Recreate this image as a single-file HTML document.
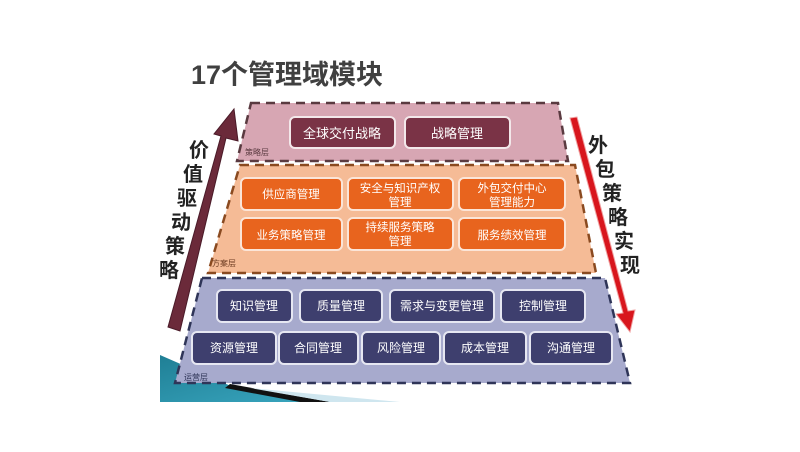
<!DOCTYPE html>
<html><head><meta charset="utf-8"><style>
body{margin:0;background:#fff;width:800px;height:447px;overflow:hidden}
text{font-family:"Liberation Sans","Noto Sans CJK SC",sans-serif}
</style></head><body>
<svg width="800" height="447" viewBox="0 0 800 447">
<defs>
<linearGradient id="teal" x1="0" y1="0" x2="1" y2="1"><stop offset="0" stop-color="#1f7f95"/><stop offset="1" stop-color="#3aa7c0"/></linearGradient>
</defs>
<polygon points="160,355 240,390 330,402 160,402" fill="url(#teal)"/>
<polygon points="230,384 330,402 300,402 225,388" fill="#111"/>
<polygon points="250,388 400,402 330,402" fill="#cfe6ef"/>
<text x="191" y="84" font-size="27" fill="#404040" font-weight="bold">17个管理域模块</text>
<!-- top layer -->
<polygon points="251,103 558,103 568,161 237,161" fill="#d7a6b3" stroke="#5a3a40" stroke-width="2.5" stroke-dasharray="9,6"/>
<text x="245" y="155" font-size="8" fill="#5a3a40" font-family="Liberation Serif,Noto Serif CJK SC,serif">策略层</text>
<g font-size="13" fill="#fff" text-anchor="middle">
<rect x="290" y="117" width="105" height="31" rx="5" fill="#7a3346" stroke="#f3e8ea" stroke-width="2"/>
<text x="342" y="138">全球交付战略</text>
<rect x="405" y="117" width="105" height="31" rx="5" fill="#7a3346" stroke="#f3e8ea" stroke-width="2"/>
<text x="457" y="138">战略管理</text>
</g>
<!-- middle layer -->
<polygon points="240,165 575,165 596,273 208,273" fill="#f5bb96" stroke="#8a4a20" stroke-width="2.5" stroke-dasharray="9,6"/>
<text x="212" y="266" font-size="8" fill="#6a3a20" font-family="Liberation Serif,Noto Serif CJK SC,serif">方案层</text>
<g font-size="11.5" fill="#fff" text-anchor="middle" stroke-width="2">
<rect x="241" y="178" width="101" height="32" rx="5" fill="#e8641e" stroke="#fbe5d8"/>
<rect x="348" y="178" width="105" height="32" rx="5" fill="#e8641e" stroke="#fbe5d8"/>
<rect x="459" y="178" width="106" height="32" rx="5" fill="#e8641e" stroke="#fbe5d8"/>
<rect x="241" y="218" width="101" height="32" rx="5" fill="#e8641e" stroke="#fbe5d8"/>
<rect x="348" y="218" width="105" height="32" rx="5" fill="#e8641e" stroke="#fbe5d8"/>
<rect x="459" y="218" width="106" height="32" rx="5" fill="#e8641e" stroke="#fbe5d8"/>
<g stroke="none">
<text x="291" y="198">供应商管理</text>
<text x="400" y="192">安全与知识产权</text><text x="400" y="206">管理</text>
<text x="512" y="192">外包交付中心</text><text x="512" y="206">管理能力</text>
<text x="291" y="239">业务策略管理</text>
<text x="400" y="231">持续服务策略</text><text x="400" y="245">管理</text>
<text x="512" y="239">服务绩效管理</text>
</g></g>
<!-- bottom layer -->
<polygon points="202,278 605,278 630,383 175,383" fill="#a7aacd" stroke="#2f3558" stroke-width="2.5" stroke-dasharray="9,6"/>
<text x="184" y="380" font-size="8" fill="#2f3558" font-family="Liberation Serif,Noto Serif CJK SC,serif">运营层</text>
<g font-size="12" fill="#fff" text-anchor="middle" stroke-width="2">
<rect x="217" y="290" width="75" height="32" rx="5" fill="#3e3f6e" stroke="#e6e7f2"/>
<rect x="300" y="290" width="82" height="32" rx="5" fill="#3e3f6e" stroke="#e6e7f2"/>
<rect x="390" y="290" width="104" height="32" rx="5" fill="#3e3f6e" stroke="#e6e7f2"/>
<rect x="501" y="290" width="84" height="32" rx="5" fill="#3e3f6e" stroke="#e6e7f2"/>
<rect x="192" y="332" width="84" height="32" rx="5" fill="#3e3f6e" stroke="#e6e7f2"/>
<rect x="279" y="332" width="79" height="32" rx="5" fill="#3e3f6e" stroke="#e6e7f2"/>
<rect x="362" y="332" width="78" height="32" rx="5" fill="#3e3f6e" stroke="#e6e7f2"/>
<rect x="444" y="332" width="82" height="32" rx="5" fill="#3e3f6e" stroke="#e6e7f2"/>
<rect x="530" y="332" width="82" height="32" rx="5" fill="#3e3f6e" stroke="#e6e7f2"/>
<g stroke="none">
<text x="254" y="310">知识管理</text>
<text x="341" y="310">质量管理</text>
<text x="442" y="310">需求与变更管理</text>
<text x="543" y="310">控制管理</text>
<text x="234" y="352">资源管理</text>
<text x="318" y="352">合同管理</text>
<text x="401" y="352">风险管理</text>
<text x="485" y="352">成本管理</text>
<text x="571" y="352">沟通管理</text>
</g></g>
<!-- left arrow -->
<polygon points="168,327 180,331 226,138 238,141 234,109 214,134 221,136" fill="#6b2a3a" stroke="#4a1a28" stroke-width="1"/>
<g font-size="20" fill="#222" text-anchor="middle" font-weight="bold">
<text x="199" y="157">价</text><text x="193" y="181">值</text><text x="187" y="205">驱</text><text x="181" y="229">动</text><text x="175" y="253">策</text><text x="169" y="277">略</text>
</g>
<!-- right arrow -->
<polygon points="570,118 577,117 628,311 635,310 630,332 616,314 623,313" fill="#d8161d" stroke="#f0a0a0" stroke-width="1"/>
<g font-size="20" fill="#222" text-anchor="middle" font-weight="bold">
<text x="598" y="152">外</text><text x="605" y="176">包</text><text x="612" y="200">策</text><text x="618" y="224">略</text><text x="624" y="248">实</text><text x="630" y="272">现</text>
</g>
</svg>
</body></html>
